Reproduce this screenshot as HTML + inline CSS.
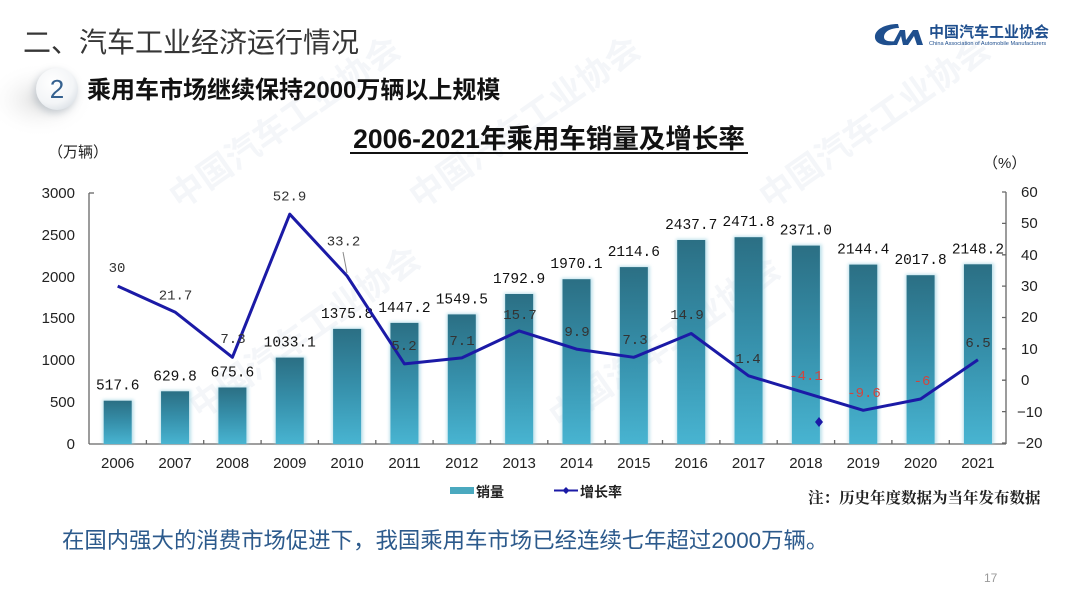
<!DOCTYPE html>
<html><head><meta charset="utf-8"><style>
html,body{margin:0;padding:0;background:#fff;}
svg{display:block;}
.cjk{font-family:"Liberation Sans","Noto Sans CJK SC",sans-serif;}
.mono{font-family:"Liberation Mono","DejaVu Sans Mono",monospace;}
.ax{font-family:"Liberation Sans",sans-serif;font-size:15px;fill:#222;}
</style></head><body>
<svg width="1080" height="604" viewBox="0 0 1080 604" xmlns="http://www.w3.org/2000/svg">
<defs>
<linearGradient id="bar" x1="0" y1="0" x2="0" y2="1">
<stop offset="0" stop-color="#2b6f84"/>
<stop offset="0.5" stop-color="#3690ab"/>
<stop offset="1" stop-color="#48b4d1"/>
</linearGradient>
<radialGradient id="shade" cx="0.5" cy="0.5" r="0.5">
<stop offset="0" stop-color="#dcdcdc" stop-opacity="0.9"/>
<stop offset="1" stop-color="#ffffff" stop-opacity="0"/>
</radialGradient>
<radialGradient id="circ" cx="0.4" cy="0.35" r="0.7">
<stop offset="0" stop-color="#ffffff"/>
<stop offset="0.7" stop-color="#f3f5f7"/>
<stop offset="1" stop-color="#dde2e7"/>
</radialGradient>
<filter id="blur2" x="-20%" y="-20%" width="140%" height="140%"><feGaussianBlur stdDeviation="1.5"/></filter>
<filter id="blur4" x="-50%" y="-50%" width="200%" height="200%"><feGaussianBlur stdDeviation="4"/></filter>
</defs>
<rect width="1080" height="604" fill="#fff"/>

<!-- faint watermarks -->
<g fill="#f4f6f9" font-family="Noto Sans CJK SC,sans-serif" font-size="34" font-weight="bold">
<text transform="translate(180,210) rotate(-35)">中国汽车工业协会</text>
<text transform="translate(420,210) rotate(-35)">中国汽车工业协会</text>
<text transform="translate(770,210) rotate(-35)">中国汽车工业协会</text>
<text transform="translate(200,420) rotate(-35)">中国汽车工业协会</text>
<text transform="translate(560,430) rotate(-35)">中国汽车工业协会</text>
</g>

<!-- Header -->
<text x="23" y="52" class="cjk" font-size="28" fill="#363636">二、汽车工业经济运行情况</text>
<ellipse cx="40" cy="100" rx="55" ry="38" fill="url(#shade)"/>
<circle cx="55" cy="92" r="21" fill="#b8bfc6" filter="url(#blur4)" opacity="0.8"/>
<circle cx="57" cy="89" r="21" fill="url(#circ)"/>
<text x="57" y="98" text-anchor="middle" font-family="Liberation Sans,sans-serif" font-size="26" fill="#35618f">2</text>
<text x="87" y="98" class="cjk" font-size="24" font-weight="bold" fill="#111">乘用车市场继续保持2000万辆以上规模</text>

<!-- Logo -->
<g fill="#1f4f8e">
<path d="M898,24 C884,24 874,30 875,38 C876,44 884,46 894,45 L897,41 C889,42 884,41 884,37 C884,32 890,28 899,28 Z"/>
<path d="M892,45 L900,30 L905,30 L906,40 L913,30 L918,30 L923,45 L917,45 L914,36 L908,45 L903,45 L901,36 L897,45 Z"/>
</g>
<text x="929" y="37" font-family="Noto Sans CJK SC,sans-serif" font-size="15" font-weight="bold" fill="#1f4f8e">中国汽车工业协会</text>
<text x="929" y="45" font-family="Liberation Sans,sans-serif" font-size="5.6" fill="#1f4f8e">China Association of Automobile Manufacturers</text>

<!-- Chart title -->
<text x="549" y="148" text-anchor="middle" class="cjk" font-size="26.5" font-weight="bold" fill="#111">2006-2021年乘用车销量及增长率</text>
<rect x="350" y="152" width="398" height="2" fill="#111"/>

<text x="48" y="157" class="cjk" font-size="15" fill="#222">（万辆）</text>
<text x="983" y="168" class="cjk" font-size="15" fill="#222">（%）</text>

<!-- Axes -->
<g stroke="#666" stroke-width="1.3" fill="none">
<line x1="89" y1="193" x2="89" y2="444"/>
<line x1="89" y1="444" x2="1006" y2="444"/>
<line x1="1006" y1="192" x2="1006" y2="444"/>
<line x1="89" y1="193" x2="94" y2="193"/>
<path d="M1006,192h-4M1006,223.4h-4M1006,254.8h-4M1006,286.1h-4M1006,317.5h-4M1006,348.8h-4M1006,380.2h-4M1006,411.6h-4M1006,443h-4"/>
<path d="M146.4,444v-4M203.7,444v-4M261.1,444v-4M318.4,444v-4M375.8,444v-4M433.1,444v-4M490.5,444v-4M547.8,444v-4M605.2,444v-4M662.5,444v-4M719.9,444v-4M777.2,444v-4M834.6,444v-4M891.9,444v-4M949.3,444v-4"/>
</g>

<!-- left tick labels -->
<g class="ax" text-anchor="end">
<text x="75" y="198">3000</text>
<text x="75" y="240">2500</text>
<text x="75" y="282">2000</text>
<text x="75" y="323">1500</text>
<text x="75" y="365">1000</text>
<text x="75" y="407">500</text>
<text x="75" y="449">0</text>
</g>
<!-- right tick labels -->
<g class="ax">
<text x="1021" y="197">60</text>
<text x="1021" y="228">50</text>
<text x="1021" y="260">40</text>
<text x="1021" y="291">30</text>
<text x="1021" y="322">20</text>
<text x="1021" y="354">10</text>
<text x="1021" y="385">0</text>
<text x="1017" y="417">−10</text>
<text x="1017" y="448">−20</text>
</g>

<!-- Bars -->
<g>
<g fill="#9fd3e2" opacity="0.7" filter="url(#blur2)">
<rect x="102.7" y="399.7" width="31" height="44.3"/>
<rect x="160.05" y="390.3" width="31" height="53.7"/>
<rect x="217.4" y="386.5" width="31" height="57.5"/>
<rect x="274.75" y="356.6" width="31" height="87.4"/>
<rect x="332.1" y="327.9" width="31" height="116.1"/>
<rect x="389.45" y="321.9" width="31" height="122.1"/>
<rect x="446.8" y="313.4" width="31" height="130.6"/>
<rect x="504.15" y="293" width="31" height="151"/>
<rect x="561.5" y="278.2" width="31" height="165.8"/>
<rect x="618.85" y="266.1" width="31" height="177.9"/>
<rect x="676.2" y="239" width="31" height="205"/>
<rect x="733.55" y="236.2" width="31" height="207.8"/>
<rect x="790.9" y="244.6" width="31" height="199.4"/>
<rect x="848.25" y="263.6" width="31" height="180.4"/>
<rect x="905.6" y="274.2" width="31" height="169.8"/>
<rect x="962.95" y="263.3" width="31" height="180.7"/>
</g>
<g fill="url(#bar)">
<rect x="103.7" y="400.7" width="28" height="43.3"/>
<rect x="161.05" y="391.3" width="28" height="52.7"/>
<rect x="218.4" y="387.5" width="28" height="56.5"/>
<rect x="275.75" y="357.6" width="28" height="86.4"/>
<rect x="333.1" y="328.9" width="28" height="115.1"/>
<rect x="390.45" y="322.9" width="28" height="121.1"/>
<rect x="447.8" y="314.4" width="28" height="129.6"/>
<rect x="505.15" y="294" width="28" height="150"/>
<rect x="562.5" y="279.2" width="28" height="164.8"/>
<rect x="619.85" y="267.1" width="28" height="176.9"/>
<rect x="677.2" y="240" width="28" height="204"/>
<rect x="734.55" y="237.2" width="28" height="206.8"/>
<rect x="791.9" y="245.6" width="28" height="198.4"/>
<rect x="849.25" y="264.6" width="28" height="179.4"/>
<rect x="906.6" y="275.2" width="28" height="168.8"/>
<rect x="963.95" y="264.3" width="28" height="179.7"/>
</g>
</g>

<!-- Bar labels -->
<g class="mono" font-size="14.5" fill="#111" text-anchor="middle">
<text x="117.7" y="389.7">517.6</text>
<text x="175.05" y="380.3">629.8</text>
<text x="232.4" y="376.5">675.6</text>
<text x="289.75" y="346.6">1033.1</text>
<text x="347.1" y="317.9">1375.8</text>
<text x="404.45" y="311.9">1447.2</text>
<text x="461.8" y="303.4">1549.5</text>
<text x="519.15" y="283">1792.9</text>
<text x="576.5" y="268.2">1970.1</text>
<text x="633.85" y="256.1">2114.6</text>
<text x="691.2" y="229">2437.7</text>
<text x="748.55" y="226.2">2471.8</text>
<text x="805.9" y="234.6">2371.0</text>
<text x="863.25" y="253.6">2144.4</text>
<text x="920.6" y="264.2">2017.8</text>
<text x="977.95" y="253.3">2148.2</text>
</g>

<!-- Growth line -->
<polyline fill="none" stroke="#1b1aa6" stroke-width="3" stroke-linejoin="round" points="117.7,286.1 175.05,312.1 232.4,357.3 289.75,214.2 347.1,276 404.45,363.9 461.8,357.9 519.15,330.9 576.5,349.1 633.85,357.3 691.2,333.5 748.55,375.8 805.9,393.1 863.25,410.3 920.6,399 977.95,359.8"/>
<line x1="343" y1="252" x2="347" y2="273" stroke="#888" stroke-width="1"/>
<path d="M819,417 l4,5 l-4,5 l-4,-5 z" fill="#1b1aa6"/>

<!-- Line labels -->
<g class="mono" font-size="14" fill="#333" text-anchor="middle">
<text x="117" y="272">30</text>
<text x="175.5" y="299.5">21.7</text>
<text x="233" y="343">7.3</text>
<text x="289.5" y="200.5">52.9</text>
<text x="343.5" y="245.5">33.2</text>
<text x="404" y="350">5.2</text>
<text x="462" y="345">7.1</text>
<text x="520" y="319">15.7</text>
<text x="577" y="336">9.9</text>
<text x="635" y="344">7.3</text>
<text x="687" y="319">14.9</text>
<text x="748" y="363">1.4</text>
<text x="978" y="347">6.5</text>
</g>
<g class="mono" font-size="14" fill="#d0453f" text-anchor="middle">
<text x="806" y="380">-4.1</text>
<text x="864" y="397">-9.6</text>
<text x="922" y="385">-6</text>
</g>

<!-- X labels -->
<g class="ax" text-anchor="middle" fill="#222">
<text x="117.7" y="468">2006</text>
<text x="175.05" y="468">2007</text>
<text x="232.4" y="468">2008</text>
<text x="289.75" y="468">2009</text>
<text x="347.1" y="468">2010</text>
<text x="404.45" y="468">2011</text>
<text x="461.8" y="468">2012</text>
<text x="519.15" y="468">2013</text>
<text x="576.5" y="468">2014</text>
<text x="633.85" y="468">2015</text>
<text x="691.2" y="468">2016</text>
<text x="748.55" y="468">2017</text>
<text x="805.9" y="468">2018</text>
<text x="863.25" y="468">2019</text>
<text x="920.6" y="468">2020</text>
<text x="977.95" y="468">2021</text>
</g>

<!-- Legend -->
<rect x="450" y="487" width="24" height="7" fill="#4aa9bf"/>
<text x="476" y="497" font-family="Noto Sans CJK SC,sans-serif" font-size="14" font-weight="bold" fill="#222">销量</text>
<line x1="554" y1="490.5" x2="578" y2="490.5" stroke="#1b1aa6" stroke-width="2"/>
<path d="M566,487 l3.5,3.5 l-3.5,3.5 l-3.5,-3.5 z" fill="#1b1aa6"/>
<text x="580" y="497" font-family="Noto Sans CJK SC,sans-serif" font-size="14" font-weight="bold" fill="#222">增长率</text>
<text x="808" y="503" font-family="Noto Serif CJK SC,serif" font-size="15.5" font-weight="bold" fill="#222">注：历史年度数据为当年发布数据</text>

<!-- Bottom text -->
<text x="62" y="548" class="cjk" font-size="22.4" fill="#2c5a8c">在国内强大的消费市场促进下，我国乘用车市场已经连续七年超过2000万辆。</text>
<text x="984" y="582" font-family="Liberation Sans,sans-serif" font-size="12" fill="#9a9a9a">17</text>
</svg>
</body></html>
